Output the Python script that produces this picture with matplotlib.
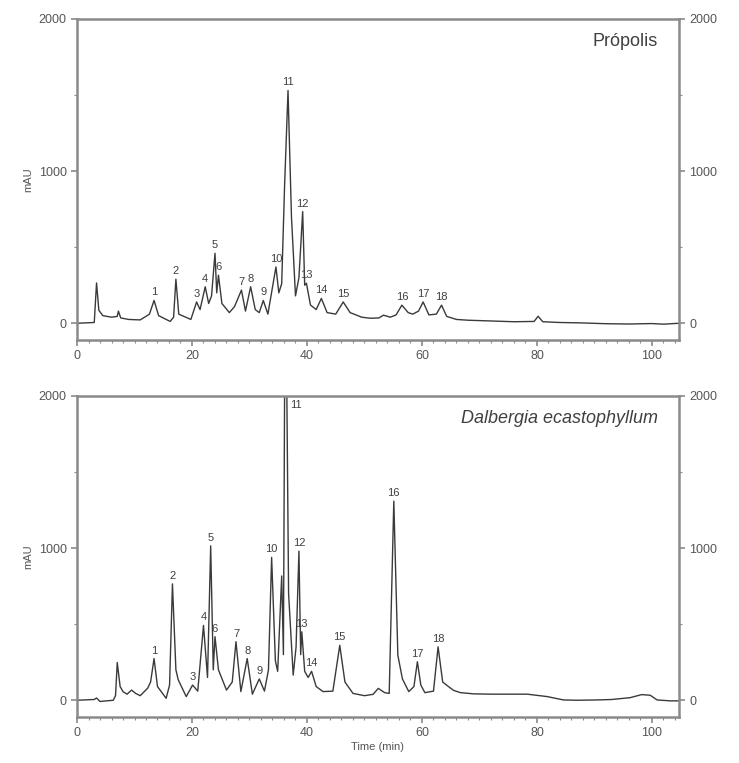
import numpy as np
import matplotlib.pyplot as plt
from matplotlib.ticker import MultipleLocator

# Própolis trace (time in min, absorbance in mAU)
prop_time = [0, 3.0, 3.4, 3.8, 4.5, 6.0, 7.0, 7.2, 7.6, 9.0, 11.0, 12.6, 13.4, 14.2,
             16.2, 16.8, 17.2, 17.7, 19.8, 20.8, 21.4, 22.3, 22.9, 23.4, 24.0, 24.3,
             24.6, 25.2, 26.5, 27.4, 28.6, 29.3, 30.2, 31.0, 31.7, 32.4, 33.2, 34.6,
             35.1, 35.6, 36.1, 36.7, 37.3, 38.0, 38.6, 39.25, 39.6, 39.9, 40.6, 41.6,
             42.5, 43.5, 45.0, 46.3, 47.5, 49.5, 51.0, 52.5, 53.3, 54.5, 55.5, 56.5,
             57.6, 58.4, 59.4, 60.2, 61.2, 62.5, 63.4, 64.3, 66.0, 68.0, 72.0, 76.0,
             79.5, 80.2, 81.0, 84.0, 88.0, 92.0, 96.0, 100.0, 102.0, 104.7]
prop_mau = [0, 5, 265, 85, 50, 40, 45, 80, 35, 25, 22, 60, 150, 50,
            12, 40, 290, 60, 25, 140, 90, 240, 130, 180, 460, 200,
            316, 130, 70, 110, 218, 80, 240, 90, 70, 150, 60, 370,
            200, 260, 900, 1530, 700, 180, 300, 734, 250, 263, 120, 90,
            163, 70, 60, 140, 70, 40, 33, 35, 53, 40, 55, 119,
            70, 60, 80, 140, 55, 60, 119, 45, 25, 20, 15, 10,
            12, 46, 10, 5, 2, -3, -5, -2, -6, 0]

# Dalbergia ecastophyllum trace
dalb_time = [0, 3.0, 3.4, 4.0, 6.3, 6.7, 7.0, 7.5, 8.0, 8.7, 9.5, 10.2, 11.0, 12.3,
             12.8, 13.4, 14.0, 15.5, 16.1, 16.6, 17.2, 17.6, 19.0, 20.1, 21.0, 22.0,
             22.7, 23.25, 23.7, 24.0, 24.6, 26.0, 27.0, 27.65, 28.5, 29.6, 30.5, 31.7,
             32.6, 33.3, 33.85, 34.5, 34.9, 35.6, 35.9, 36.1, 36.5, 36.8, 37.6, 38.1,
             38.6, 38.9, 39.1, 39.6, 40.2, 40.8, 41.6, 42.8, 44.5, 45.7, 46.6, 48.0,
             50.0, 51.5, 52.4, 53.5, 54.3, 55.1, 55.8, 56.6, 57.7, 58.6, 59.2, 59.8,
             60.5, 62.0, 62.8, 63.6, 64.6, 65.5, 66.7, 69.0, 72.3, 75.0, 78.3, 81.8,
             84.6, 87.0, 90.4, 93.0, 96.2, 98.2, 99.7, 100.9, 103.2, 104.7]
dalb_mau = [0, 5, 15, -8, 0, 30, 248, 90, 57, 40, 67, 45, 30, 80,
            120, 274, 90, 13, 100, 765, 200, 135, 24, 100, 60, 492,
            150, 1015, 200, 418, 200, 67, 120, 385, 57, 274, 40, 140,
            60, 200, 939, 260, 190, 817, 300, 2000, 2000, 700, 165, 350,
            980, 300, 450, 190, 150, 190, 90, 57, 60, 361, 120, 45,
            30, 39, 78, 50, 45, 1309, 296, 140, 57, 90, 253, 100,
            50, 60, 351, 120, 90, 65, 50, 42, 40, 40, 40, 24,
            2, 0, 2, 5, 17, 37, 33, 2, -4, -4]

# peak numbers and their retention times
prop_peaks = [1, 2, 3, 4, 5, 6, 7, 8, 9, 10, 11, 12, 13, 14, 15, 16, 17, 18]
prop_rt = [13.4, 17.2, 20.8, 22.3, 24.0, 24.6, 28.6, 30.2, 32.4, 34.6, 36.7, 39.25,
           39.9, 42.5, 46.3, 56.5, 60.2, 63.4]
dalb_peaks = [1, 2, 3, 4, 5, 6, 7, 8, 9, 10, 11, 12, 13, 14, 15, 16, 17, 18]
dalb_rt = [13.4, 16.6, 20.1, 22.0, 23.25, 24.0, 27.65, 29.6, 31.7, 33.85, 36.3, 38.6,
           39.1, 40.8, 45.7, 55.1, 59.2, 62.8]

line_col = '#3a3a3a'
spine_col = '#8a8a8a'
plt.rcParams['font.family'] = ['Liberation Sans', 'DejaVu Sans']


def draw_panel(ax, t, v, peaks, rt, title, italic):
    ax.plot(t, v, color=line_col, lw=1.0)
    ax.set_xlim(0, 104.7)
    ax.set_ylim(-110, 2000)
    ax.xaxis.set_major_locator(MultipleLocator(20))
    ax.xaxis.set_minor_locator(MultipleLocator(2))
    ax.yaxis.set_major_locator(MultipleLocator(1000))
    ax.yaxis.set_minor_locator(MultipleLocator(500))
    ax.tick_params(which='major', length=4, width=1.2, color=spine_col,
                   labelsize=9, labelcolor='#555555', right=True, labelright=True)
    ax.tick_params(which='minor', length=2, width=0.8, color=spine_col, right=True)
    for s in ax.spines.values():
        s.set_color(spine_col)
        s.set_linewidth(1.8)
    ax.set_ylabel('mAU', fontsize=8, color='#555555', labelpad=4)
    ax.text(0.965, 0.93, title, transform=ax.transAxes, ha='right', va='center',
            fontsize=13, style='italic' if italic else 'normal', color='#404040')
    for n, r in zip(peaks, rt):
        h = min(np.interp(r, t, v), 1950)
        if h >= 1950:
            # off-scale peak: number sits beside the clipped top
            ax.text(r + 0.8, 1975, str(n), ha='left', va='top', fontsize=8, color='#404040')
        else:
            ax.text(r, h + 20, str(n), ha='center', va='bottom', fontsize=8, color='#404040')


fig = plt.figure(figsize=(7.39, 7.63), dpi=100)
ax1 = fig.add_axes([0.1042, 0.5544, 0.8146, 0.4207])
ax2 = fig.add_axes([0.1042, 0.0603, 0.8146, 0.4207])

draw_panel(ax1, prop_time, prop_mau, prop_peaks, prop_rt, 'Própolis', False)
draw_panel(ax2, dalb_time, dalb_mau, dalb_peaks, dalb_rt, 'Dalbergia ecastophyllum', True)
ax2.set_xlabel('Time (min)', fontsize=8, color='#555555', labelpad=2)

fig.savefig('out.png', dpi=100)
